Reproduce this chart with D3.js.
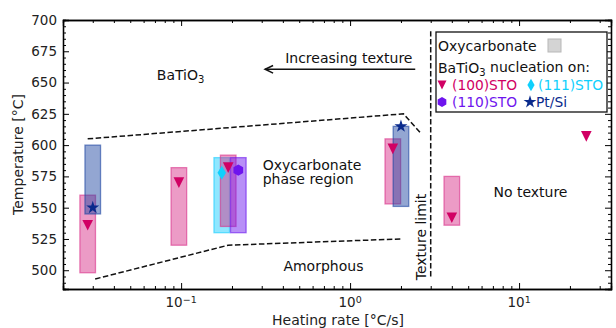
<!DOCTYPE html>
<html>
<head>
<meta charset="utf-8">
<script src="https://cdn.jsdelivr.net/npm/d3@7"></script>
<style>
body{margin:0;background:#fff;}
text{font-family:"DejaVu Sans",sans-serif;}
</style>
</head>
<body>
<div id="chart-area"></div>
<script>

// values
let sto100RectX = [0.028, 0.097, 0.19, 1.79, 4.0];
let sto100RectLo = [498, 520, 535, 553, 536];
let sto100RectHi = [560, 582, 592, 605, 575];
let sto100PtX = [0.028, 0.097, 0.19, 1.79, 4.0, 25];
let sto100PtY = [536, 570, 582, 597, 542, 607];

let sto111RectX = [0.174];
let sto111RectLo = [530];
let sto111RectHi = [590];
let sto111PtX = [0.174];
let sto111PtY = [578];

let sto110RectX = [0.218];
let sto110RectLo = [530];
let sto110RectHi = [590];
let sto110PtX = [0.218];
let sto110PtY = [580];

let ptsiRectX = [0.030, 2.0];
let ptsiRectLo = [545, 551];
let ptsiRectHi = [600, 615];
let ptsiPtX = [0.030, 2.0];
let ptsiPtY = [550, 615];

// phase boundaries (dashed)
let upperX = [0.028, 2.07, 2.6];
let upperY = [605, 625, 610];
let lowerX = [0.031, 0.19, 2.0];
let lowerY = [493, 520, 525];
let limitX = [3, 3];
let limitY = [495, 691];

let yTicks = [500, 525, 550, 575, 600, 625, 650, 675, 700];
let xTicks = [0.1, 1, 10];
let xTickExp = ["\u22121", "0", "1"];

let margin = {top: 20, right: 5, bottom: 39, left: 63};
let width = 616 - margin.left - margin.right;
let height = 328 - margin.top - margin.bottom;

let svg = d3.select("#chart-area").append("svg")
		.attr("width", 616)
		.attr("height", 328)
	.append("g")
		.attr("transform", "translate(" + margin.left + "," + margin.top + ")");

let x = d3.scaleLog().domain([0.02, 35]).range([0, width]);
let y = d3.scaleLinear().domain([485, 700]).range([height, 0]);

let colors = {
	s100: {mark: "#d10064", fill: "#d82f88"},
	s111: {mark: "#0fd0fd", fill: "#15cdff"},
	s110: {mark: "#6e14ee", fill: "#6a15ef"},
	ptsi: {mark: "#0a2a8c", fill: "#1d45a1"}
};

// rect half width in log space
let hw = 1.112;

function drawRects(xs, lo, hi, c) {
	svg.append("g").selectAll("rect")
		.data(xs)
		.enter().append("rect")
		.attr("x", d => x(d / hw))
		.attr("width", d => x(d * hw) - x(d / hw))
		.attr("y", (d, i) => y(hi[i]))
		.attr("height", (d, i) => y(lo[i]) - y(hi[i]))
		.style("fill", c.fill)
		.style("fill-opacity", 0.48)
		.style("stroke", c.fill)
		.style("stroke-opacity", 0.6)
		.style("stroke-width", 1.3);
}

drawRects(sto111RectX, sto111RectLo, sto111RectHi, colors.s111);
drawRects(sto100RectX, sto100RectLo, sto100RectHi, colors.s100);
drawRects(sto110RectX, sto110RectLo, sto110RectHi, colors.s110);
drawRects(ptsiRectX, ptsiRectLo, ptsiRectHi, colors.ptsi);

// marker shapes
function triDown(s) {
	return "M" + (-s) + "," + (-s) + "L" + s + "," + (-s) + "L0," + s + "Z";
}
function thinDiamond(w, h) {
	return "M0," + (-h) + "L" + w + ",0L0," + h + "L" + (-w) + ",0Z";
}
function hexagon(s) {
	let pts = d3.range(6).map(k => {
		let a = Math.PI / 3 * k - Math.PI / 2;
		return [s * Math.cos(a), s * Math.sin(a)];
	});
	return d3.line()(pts) + "Z";
}
let starPath = d3.symbol().type(d3.symbolStar).size(52)();

function drawPoints(xs, ys, path, color) {
	svg.append("g").selectAll("path")
		.data(xs)
		.enter().append("path")
		.attr("transform", (d, i) => "translate(" + x(d) + "," + y(ys[i]) + ")")
		.attr("d", path)
		.style("fill", color);
}

drawPoints(sto100PtX, sto100PtY, triDown(5.3), colors.s100.mark);
drawPoints(sto111PtX, sto111PtY, thinDiamond(4.3, 7), colors.s111.mark);
drawPoints(sto110PtX, sto110PtY, hexagon(5.6), colors.s110.mark);
drawPoints(ptsiPtX, ptsiPtY, starPath, colors.ptsi.mark);

// dashed boundaries
function dashed(xs, ys) {
	let line = d3.line()
		.x(d => x(d[0]))
		.y(d => y(d[1]));
	svg.append("path")
		.datum(xs.map((d, i) => [d, ys[i]]))
		.attr("d", line)
		.style("fill", "none")
		.style("stroke", "#111")
		.style("stroke-width", 1.5)
		.style("stroke-dasharray", "5.5,2.5");
}
dashed(upperX, upperY);
dashed(lowerX, lowerY);
dashed(limitX, limitY);

// axes, ticks inward on all four sides
let yMinor = d3.range(485, 701, 5).filter(v => v % 25 != 0);
let xMinor = x.ticks().filter(v => xTicks.indexOf(v) < 0);

function styleAxis(g) {
	g.select(".domain").style("stroke", "#000").style("stroke-width", 1.3);
	g.selectAll("line").style("stroke", "#000").style("stroke-width", 1);
	g.selectAll("text").remove();
}

svg.append("g").call(d3.axisLeft(y).tickValues(yTicks).tickSize(-6).tickFormat("")).call(styleAxis);
svg.append("g").call(d3.axisLeft(y).tickValues(yMinor).tickSize(-3).tickFormat("")).call(styleAxis);
svg.append("g").attr("transform", "translate(" + width + ",0)")
	.call(d3.axisRight(y).tickValues(yTicks).tickSize(-6).tickFormat("")).call(styleAxis);
svg.append("g").attr("transform", "translate(" + width + ",0)")
	.call(d3.axisRight(y).tickValues(yMinor).tickSize(-3).tickFormat("")).call(styleAxis);
svg.append("g").attr("transform", "translate(0," + height + ")")
	.call(d3.axisBottom(x).tickValues(xTicks).tickSize(-6).tickFormat("")).call(styleAxis);
svg.append("g").attr("transform", "translate(0," + height + ")")
	.call(d3.axisBottom(x).tickValues(xMinor).tickSize(-3).tickFormat("")).call(styleAxis);
svg.append("g")
	.call(d3.axisTop(x).tickValues(xTicks).tickSize(-6).tickFormat("")).call(styleAxis);
svg.append("g")
	.call(d3.axisTop(x).tickValues(xMinor).tickSize(-3).tickFormat("")).call(styleAxis);

// tick labels
svg.append("g").selectAll("text")
	.data(yTicks)
	.enter().append("text")
	.attr("x", -6)
	.attr("y", d => y(d))
	.attr("dy", "0.36em")
	.attr("text-anchor", "end")
	.style("font-size", "13.5px")
	.style("fill", "#222")
	.text(d => d);

let xl = svg.append("g").selectAll("text")
	.data(xTicks)
	.enter().append("text")
	.attr("x", d => x(d))
	.attr("y", height + 18)
	.attr("text-anchor", "middle")
	.style("font-size", "13.5px")
	.style("fill", "#222");
xl.append("tspan").text("10");
xl.append("tspan").attr("dy", "-0.45em").style("font-size", "9.5px").text((d, i) => xTickExp[i]);

svg.append("text")
	.attr("x", width / 2 + 1)
	.attr("y", height + 36)
	.attr("text-anchor", "middle")
	.style("font-size", "14px")
	.style("fill", "#222")
	.text("Heating rate [°C/s]");

svg.append("text")
	.attr("transform", "translate(-40," + (height / 2) + ") rotate(-90)")
	.attr("text-anchor", "middle")
	.style("font-size", "14px")
	.style("fill", "#222")
	.text("Temperature [°C]");

// annotations
function note(tx, ty, str, anchor) {
	return svg.append("text")
		.attr("x", x(tx))
		.attr("y", y(ty))
		.attr("text-anchor", anchor || "start")
		.style("font-size", "14px")
		.style("fill", "#111")
		.text(str);
}

let bt = note(0.0718, 652, "BaTiO");
bt.append("tspan").attr("dy", "0.3em").style("font-size", "10px").text("3");

note(2.34, 665.4, "Increasing texture", "end");
let arrowY = y(660.6);
svg.append("line")
	.attr("x1", x(2.43)).attr("y1", arrowY)
	.attr("x2", x(0.314)).attr("y2", arrowY)
	.style("stroke", "#111")
	.style("stroke-width", 1.5);
svg.append("path")
	.attr("d", "M" + (x(0.314) + 8) + "," + (arrowY - 3.8) + "L" + x(0.314) + "," + arrowY + "L" + (x(0.314) + 8) + "," + (arrowY + 3.8))
	.style("fill", "none")
	.style("stroke", "#111")
	.style("stroke-width", 1.5);

// two-line label as one text
let oxy = note(0.304, 580, "");
oxy.append("tspan").attr("x", x(0.304)).text("Oxycarbonate");
oxy.append("tspan").attr("x", x(0.304)).attr("dy", 13.5).text("phase region");

note(0.403, 499.4, "Amorphous");
note(7.05, 558.2, "No texture");

svg.append("text")
	.attr("transform", "translate(" + (x(3) - 5) + "," + y(492) + ") rotate(-90)")
	.style("font-size", "14px")
	.style("fill", "#111")
	.text("Texture limit");

// legend
let lg = svg.append("g").attr("transform", "translate(" + (436 - margin.left) + "," + (32 - margin.top) + ")");
lg.append("rect")
	.attr("width", 171).attr("height", 80)
	.style("fill", "#fff")
	.style("stroke", "#111")
	.style("stroke-width", 1.3);
lg.append("text").attr("x", 2).attr("y", 19).style("font-size", "14px").style("fill", "#111").text("Oxycarbonate");
lg.append("rect").attr("x", 112).attr("y", 7).attr("width", 13).attr("height", 13)
	.style("fill", "#d4d4d4").style("stroke", "#b8b8b8");
let lt = lg.append("text").attr("x", 2).attr("y", 41).style("font-size", "14px").style("fill", "#111").text("BaTiO");
lt.append("tspan").attr("dy", "0.3em").style("font-size", "10px").text("3");
lt.append("tspan").attr("dy", "-0.3em").text(" nucleation on:");

let legendItems = [
	{label: "(100)STO", color: colors.s100.mark, path: triDown(4.5), lx: 6, ly: 53, off: 10},
	{label: "(111)STO", color: colors.s111.mark, path: thinDiamond(3.6, 6.2), lx: 95, ly: 53, off: 7},
	{label: "(110)STO", color: colors.s110.mark, path: hexagon(5), lx: 6, ly: 70, off: 10},
	{label: "Pt/Si", color: colors.ptsi.mark, path: starPath, lx: 94, ly: 70, off: 6}
];
legendItems.forEach(it => {
	lg.append("path").attr("transform", "translate(" + it.lx + "," + it.ly + ")")
		.attr("d", it.path).style("fill", it.color);
	lg.append("text").attr("x", it.lx + it.off).attr("y", it.ly + 5)
		.style("font-size", "13.8px").style("fill", it.color).text(it.label);
});

</script>
</body>
</html>
